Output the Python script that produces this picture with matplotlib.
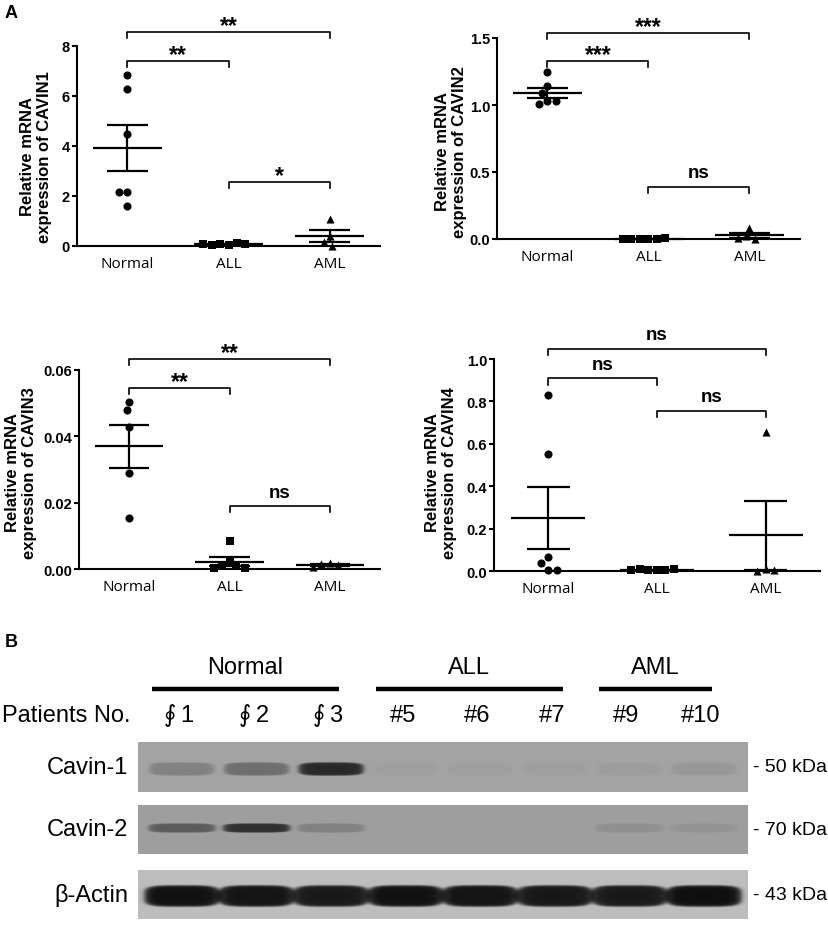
import numpy as np
import matplotlib.pyplot as plt

plt.rcParams['font.family'] = ['Liberation Sans', 'DejaVu Sans']

W, H = 829, 928

# ---- panel A data ----
groups = ['Normal', 'ALL', 'AML']

cavin1_normal = [6.84, 6.28, 4.48, 2.17, 2.17, 1.60]
cavin1_all = [0.06, 0.09, 0.11, 0.05, 0.08, 0.07]
cavin1_aml = [1.08, 0.40, 0.15, 0.02]

cavin2_normal = [1.25, 1.14, 1.09, 1.03, 1.01, 1.03]
cavin2_all = [0.002, 0.003, 0.001, 0.002, 0.004, 0.002]
cavin2_aml = [0.08, 0.02, 0.0, 0.01]

cavin3_normal = [0.0503, 0.0478, 0.0427, 0.0288, 0.0155]
cavin3_all = [0.0085, 0.0025, 0.0012, 0.0008, 0.0003, 0.0002]
cavin3_aml = [0.0018, 0.0015, 0.0012, 0.0005]

cavin4_normal = [0.83, 0.552, 0.065, 0.04, 0.005, 0.005]
cavin4_all = [0.004, 0.006, 0.003, 0.01, 0.008, 0.004]
cavin4_aml = [0.657, 0.01, 0.0, 0.005]

cavin1_ticks = [0, 2, 4, 6, 8]
cavin2_ticks = [0.0, 0.5, 1.0, 1.5]
cavin3_ticks = [0.0, 0.02, 0.04, 0.06]
cavin4_ticks = [0.0, 0.2, 0.4, 0.6, 0.8, 1.0]

# (group a, group b, bracket height, label)
cavin1_sig = [(0, 2, 8.56, '**'), (0, 1, 7.4, '**'), (1, 2, 2.57, '*')]
cavin2_sig = [(0, 2, 1.54, '***'), (0, 1, 1.33, '***'), (1, 2, 0.39, 'ns')]
cavin3_sig = [(0, 2, 0.0633, '**'), (0, 1, 0.0545, '**'), (1, 2, 0.0189, 'ns')]
cavin4_sig = [(0, 2, 1.047, 'ns'), (0, 1, 0.909, 'ns'), (1, 2, 0.756, 'ns')]

# ---- panel B data ----
lane_labels = ['\u222e\u20091', '\u222e\u20092', '\u222e\u20093', '#5', '#6', '#7', '#9', '#10']
blot_groups = [('Normal', 0, 2), ('ALL', 3, 5), ('AML', 6, 7)]
cavin1_bands = [0.22, 0.35, 0.80, 0.03, 0.03, 0.03, 0.04, 0.08]
cavin2_bands = [0.45, 0.75, 0.20, 0.0, 0.0, 0.0, 0.10, 0.07]
actin_bands = [0.97, 0.95, 0.92, 0.97, 0.95, 0.93, 0.92, 0.98]


fig = plt.figure(figsize=(W / 100, H / 100), dpi=100)


def px_axes(left, top, right, bottom):
    return fig.add_axes([left / W, 1 - bottom / H, (right - left) / W, (bottom - top) / H])


def swarm(ax, xc, values, d=8.5):
    to_px = ax.transData.transform
    sx = to_px((1, 0))[0] - to_px((0, 0))[0]
    placed, offs = [], []
    steps = sorted(np.arange(-60, 60.5, 0.5), key=abs)
    for v in values:
        y = to_px((xc, v))[1]
        for off in steps:
            if all((off - px) ** 2 + (y - py) ** 2 >= d * d for px, py in placed):
                break
        placed.append((off, y))
        offs.append(off / sx)
    return np.array(offs)


def bracket(ax, i, j, y, label, ymax):
    t = 0.03 * ymax
    ax.plot([i, i, j, j], [y - t, y, y, y - t], color='black', lw=1.2, clip_on=False)
    if label == 'ns':
        off, fs = 7, 13.5
    else:
        off, fs = 0, 16.5
    ax.annotate(label, xy=((i + j) / 2, y), xytext=(0, off), textcoords='offset points',
                ha='center', va='baseline', fontsize=fs, fontweight='bold',
                annotation_clip=False)


panels = [
    ((77, 47, 380, 247), [cavin1_normal, cavin1_all, cavin1_aml], cavin1_ticks, '{:.0f}',
     cavin1_sig, 'CAVIN1', (36, 157)),
    ((497, 39, 800, 240), [cavin2_normal, cavin2_all, cavin2_aml], cavin2_ticks, '{:.1f}',
     cavin2_sig, 'CAVIN2', (451, 152)),
    ((79, 371, 380, 570), [cavin3_normal, cavin3_all, cavin3_aml], cavin3_ticks, '{:.2f}',
     cavin3_sig, 'CAVIN3', (21, 473)),
    ((494, 360, 820, 572), [cavin4_normal, cavin4_all, cavin4_aml], cavin4_ticks, '{:.1f}',
     cavin4_sig, 'CAVIN4', (441, 473)),
]
markers = ['o', 's', '^']

for rect, series, yticks, fmt, sig, gene, lab_xy in panels:
    ax = px_axes(*rect)
    ymax = yticks[-1]
    ax.set_xlim(-0.5, 2.5)
    ax.set_ylim(0, ymax)
    for s in ['top', 'right']:
        ax.spines[s].set_visible(False)
    for s in ['left', 'bottom']:
        ax.spines[s].set_linewidth(1.5)
    ax.set_xticks(range(len(groups)))
    ax.set_xticklabels(groups, fontfamily='Open Sans', fontsize=11)
    ax.tick_params(axis='x', length=0, pad=7)
    ax.set_yticks(yticks)
    ax.set_yticklabels([fmt.format(t) for t in yticks], fontsize=10.5, fontweight='bold')
    ax.tick_params(axis='y', length=3.5, width=1.5, pad=1.5)

    for i, (vals, mk) in enumerate(zip(series, markers)):
        offs = swarm(ax, i, vals)
        ax.scatter(i + offs, vals, marker=mk, s=34, color='black', linewidths=0,
                   clip_on=False, zorder=3)
        mean = np.mean(vals)
        sem = np.std(vals, ddof=1) / np.sqrt(len(vals))
        ax.hlines(mean, i - 0.34, i + 0.34, color='black', lw=1.6, zorder=4, clip_on=False)
        ax.hlines([mean - sem, mean + sem], i - 0.2, i + 0.2, color='black', lw=1.6,
                  zorder=4, clip_on=False)
        ax.vlines(i, mean - sem, mean + sem, color='black', lw=1.6, zorder=4, clip_on=False)

    for a, b, y, label in sig:
        bracket(ax, a, b, y, label, ymax)

    fig.text(lab_xy[0] / W, 1 - lab_xy[1] / H, f'Relative mRNA\nexpression of {gene}',
             rotation=90, ha='center', va='center', fontsize=12, fontweight='bold',
             multialignment='center', linespacing=1.1)

fig.text(5 / W, 1 - 13 / H, 'A', fontsize=13, fontweight='bold', ha='left', va='center')

# ---- panel B: western blot ----
axb = fig.add_axes([0, 0, 1, (H - 620) / H])
axb.set_xlim(0, W)
axb.set_ylim(H, 620)
axb.axis('off')

axb.text(5, 643, 'B', fontsize=13, fontweight='bold', ha='left', va='center')

strip_left, strip_right = 138, 748
lane_x = np.linspace(182, 704, len(lane_labels))

for name, a, b in blot_groups:
    x0, x1 = lane_x[a] - 30, lane_x[b] + 8
    axb.plot([x0, x1], [690, 690], color='black', lw=3.2, solid_capstyle='butt')
    axb.text((x0 + x1) / 2, 668, name, fontsize=17, ha='center', va='center')

axb.text(2, 716, 'Patients No.', fontsize=17, ha='left', va='center')
for x, lab in zip(lane_x, lane_labels):
    axb.text(x - 3, 716, lab, fontsize=17, ha='center', va='center')

strips = [
    ('Cavin-1', cavin1_bands, 743, 793, 770, 6.5, 32, 0.64, '- 50 kDa'),
    ('Cavin-2', cavin2_bands, 806, 855, 829, 4.5, 33, 0.62, '- 70 kDa'),
    ('\u03b2-Actin', actin_bands, 871, 920, 897, 10.5, 37, 0.74, '- 43 kDa'),
]

xs = np.arange(strip_left, strip_right) + 0.5
for name, bands, top, bot, yc, hh, hw, bg, kda in strips:
    ys = np.arange(top, bot) + 0.5
    X, Y = np.meshgrid(xs, ys)
    dark = np.zeros_like(X)
    for c, val in zip(lane_x, bands):
        r = ((X - c) / hw) ** 4 + ((Y - yc) / hh) ** 4
        dark += val / (1 + np.exp((r - 1) * 5))
    img = bg - (bg - 0.04) * np.clip(dark, 0, 1)
    axb.imshow(img, cmap='gray', vmin=0, vmax=1, extent=(strip_left, strip_right, bot, top),
               aspect='auto', interpolation='bilinear')
    axb.text(128, (top + bot) / 2, name, fontsize=17, ha='right', va='center')
    axb.text(753, (top + bot) / 2, kda, fontsize=14, ha='left', va='center')

axb.set_xlim(0, W)
axb.set_ylim(H, 620)

fig.savefig('out.png', dpi=100)
